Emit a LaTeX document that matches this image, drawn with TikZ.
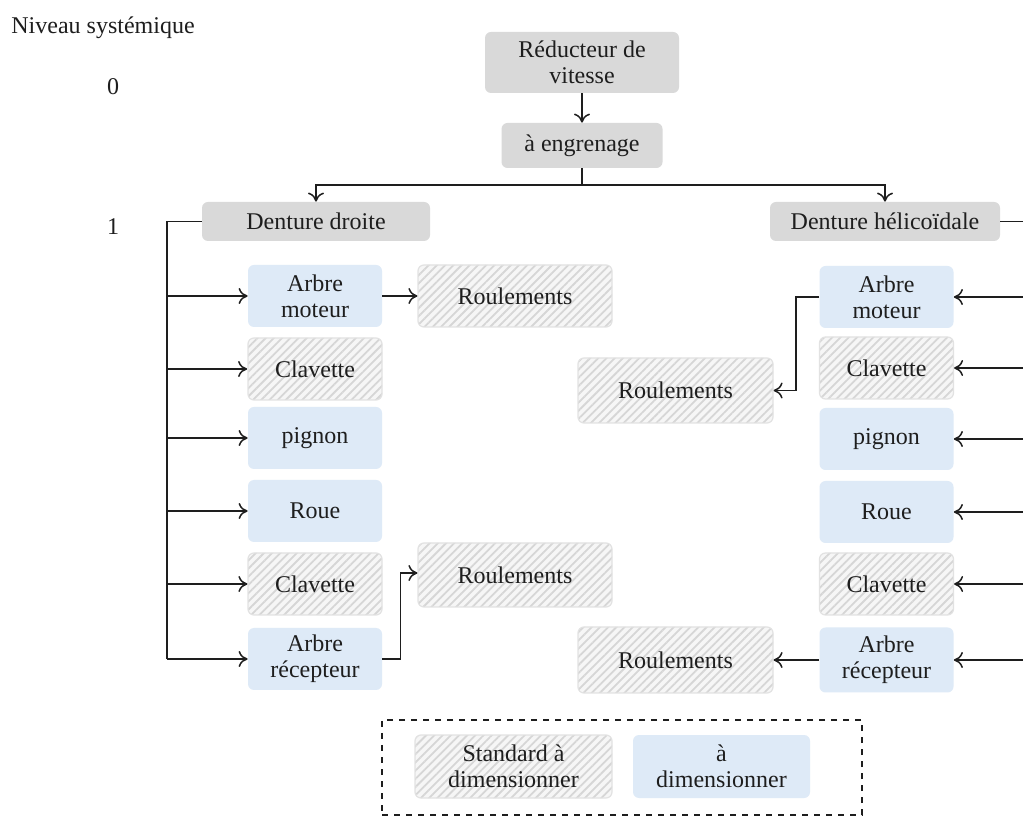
\documentclass[tikz,border=0pt]{standalone}
\usepackage{fontspec}
\setmainfont{Liberation Serif}
\usetikzlibrary{arrows.meta,patterns.meta}
\definecolor{levelgray}{HTML}{D9D9D9}
\definecolor{dimblue}{HTML}{DEEAF7}
\definecolor{hatchbg}{HTML}{F6F6F6}
\definecolor{hatchline}{HTML}{D6D6D6}
\definecolor{hatchborder}{HTML}{E2E2E2}
\definecolor{inkgray}{HTML}{1E1E1E}
\tikzset{
  base/.style={rounded corners=3pt, align=center, inner sep=1pt,
    font=\fontsize{12}{13}\selectfont, text=inkgray},
  levelbox/.style={base, fill=levelgray},
  dimbox/.style={base, fill=dimblue, minimum width=67pt, minimum height=31pt},
  stdbox/.style={base, draw=hatchborder, line width=0.6pt, preaction={fill=hatchbg},
    pattern={Lines[angle=45,distance=2.9pt,line width=0.9pt]}, pattern color=hatchline,
    minimum width=67pt, minimum height=31pt},
  conn/.style={draw=inkgray, line width=0.75pt},
  arr/.style={conn, -{To[length=4.5pt,width=8pt]}},
  plain/.style={font=\fontsize{12}{13}\selectfont, text=inkgray, inner sep=0pt}
}
\begin{document}
\begin{tikzpicture}[x=0.5pt,y=-0.5pt]
\clip (0,0) rectangle (1023,817);
\fill[white] (0,0) rectangle (1023,817);

% level labels
\node[plain] (niv) at (103,28) {Niveau systémique};
\node[plain] (n0) at (113,87) {0};
\node[plain] (n1) at (113,227) {1};

% level 0
\node[levelbox, minimum width=97pt, minimum height=30.5pt] (red) at (582,62.5) {Réducteur de\\vitesse};
\node[levelbox, minimum width=80.5pt, minimum height=22.5pt] (eng) at (582,145.5) {à engrenage};

% level 1
\node[levelbox, minimum width=114pt, minimum height=19.5pt] (dd) at (316,221.5) {Denture droite};
\node[levelbox, minimum width=115pt, minimum height=19.5pt] (dh) at (885,221.5) {Denture hélicoïdale};

% left column
\node[dimbox] (l1) at (315,296) {Arbre\\moteur};
\node[stdbox] (l2) at (315,369) {Clavette};
\node[dimbox] (l3) at (315,438) {pignon};
\node[dimbox] (l4) at (315,511) {Roue};
\node[stdbox] (l5) at (315,584) {Clavette};
\node[dimbox] (l6) at (315,659) {Arbre\\récepteur};
\node[stdbox, minimum width=97pt] (lr1) at (515,296) {Roulements};
\node[stdbox, minimum width=97pt, minimum height=32pt] (lr2) at (515,575) {Roulements};

% right column
\node[dimbox] (r1) at (886.5,297) {Arbre\\moteur};
\node[stdbox] (r2) at (886.5,368) {Clavette};
\node[dimbox] (r3) at (886.5,439) {pignon};
\node[dimbox] (r4) at (886.5,512) {Roue};
\node[stdbox] (r5) at (886.5,584) {Clavette};
\node[dimbox, minimum height=32.5pt] (r6) at (886.5,660) {Arbre\\récepteur};
\node[stdbox, minimum width=97.5pt, minimum height=32.5pt] (rr1) at (675.5,390.5) {Roulements};
\node[stdbox, minimum width=97.5pt, minimum height=33pt] (rr2) at (675.5,660) {Roulements};

% top connectors
\coordinate (split) at (582,185);
\draw[arr] (red) -- (eng);
\draw[conn] (eng) -- (split);
\draw[arr] (split) -| (dd.north);
\draw[arr] (split) -| (dh.north);

% left bus
\coordinate (lbus) at (167,221.5);
\draw[conn] (dd.west) -- (lbus) -- (lbus |- l6.west);
\foreach \n in {l1,l2,l3,l4,l5,l6}
  \draw[arr] (lbus |- \n.west) -- (\n.west);

% right bus (runs off the picture)
\coordinate (rbus) at (1045,221.5);
\draw[conn] (dh.east) -- (rbus) -- (rbus |- r6.east);
\foreach \n in {r1,r2,r3,r4,r5,r6}
  \draw[arr] (rbus |- \n.east) -- (\n.east);

% bearing connectors
\draw[arr] (l1.east) -- (lr1.west);
\draw[arr] (l6.east) -- ++(9pt,0) |- ([yshift=1pt]lr2.west);
\draw[arr] (r1.west) -- ++(-11.5pt,0) |- (rr1.east);
\draw[arr] (r6.west) -- (rr2.east);

% legend
\node[draw=inkgray, dashed, line width=0.75pt, minimum width=240pt, minimum height=47.5pt, inner sep=0pt] (leg) at (622,767.5) {};
\node[stdbox, minimum width=98.5pt, minimum height=31.5pt] (legstd) at (513.5,766.5) {Standard à\\dimensionner};
\node[dimbox, minimum width=88.5pt, minimum height=31.5pt] (legdim) at (721.5,766.5) {à\\dimensionner};
\end{tikzpicture}
\end{document}
